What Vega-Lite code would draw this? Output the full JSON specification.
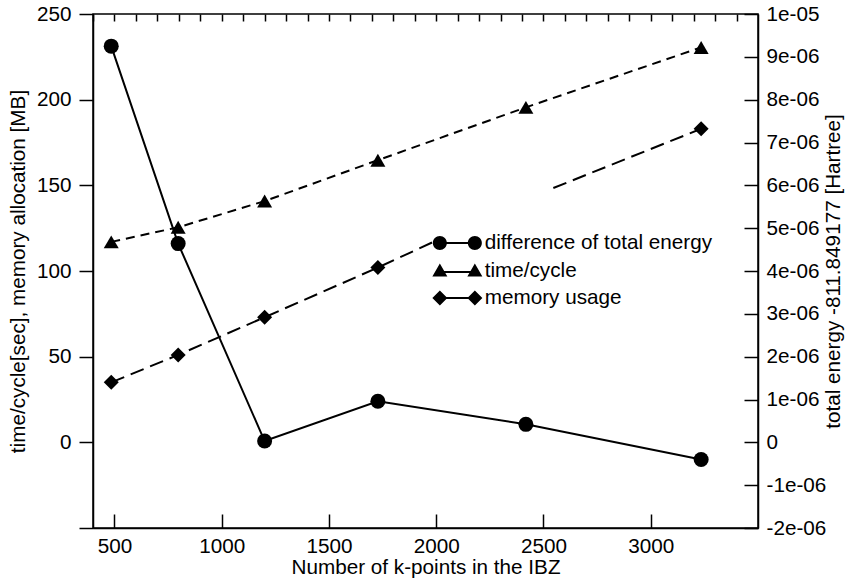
{
  "$schema": "https://vega.github.io/schema/vega-lite/v6.json",
  "width": 665,
  "height": 514,
  "autosize": {"type": "none"},
  "padding": {"left": 93, "top": 14, "right": 89, "bottom": 53},
  "background": "white",
  "config": {
    "font": "Liberation Sans",
    "view": {"stroke": "black", "strokeWidth": 1.5},
    "axis": {
      "grid": false,
      "domainColor": "black",
      "domainWidth": 1.5,
      "tickColor": "black",
      "tickWidth": 1.5,
      "labelColor": "black",
      "titleColor": "black",
      "labelFont": "Liberation Sans",
      "titleFont": "Liberation Sans",
      "labelFontSize": 20.7,
      "titleFontSize": 20.7,
      "titleFontWeight": "normal"
    },
    "legend": {
      "labelFont": "Liberation Sans",
      "labelFontSize": 20.7,
      "labelColor": "black",
      "labelLimit": 400,
      "titleFont": "Liberation Sans"
    }
  },
  "datasets": {
    "d": [
      {"k": 485, "series": "difference of total energy", "v": 9.25e-6},
      {"k": 797, "series": "difference of total energy", "v": 4.64e-6},
      {"k": 1200, "series": "difference of total energy", "v": 0.03e-6},
      {"k": 1728, "series": "difference of total energy", "v": 0.96e-6},
      {"k": 2418, "series": "difference of total energy", "v": 0.42e-6},
      {"k": 3235, "series": "difference of total energy", "v": -0.4e-6},
      {"k": 485, "series": "time/cycle", "v": 117},
      {"k": 797, "series": "time/cycle", "v": 125.5},
      {"k": 1200, "series": "time/cycle", "v": 140.8},
      {"k": 1728, "series": "time/cycle", "v": 164.7},
      {"k": 2418, "series": "time/cycle", "v": 195.5},
      {"k": 3235, "series": "time/cycle", "v": 230.5},
      {"k": 485, "series": "memory usage", "v": 35},
      {"k": 797, "series": "memory usage", "v": 51},
      {"k": 1200, "series": "memory usage", "v": 73},
      {"k": 1728, "series": "memory usage", "v": 102},
      {"k": 2418, "series": "memory usage", "v": 142},
      {"k": 3235, "series": "memory usage", "v": 183}
    ]
  },
  "data": {"name": "d"},
  "resolve": {"scale": {"y": "independent"}, "axis": {"x": "independent"}},
  "layer": [
    {
      "encoding": {
        "x": {
          "field": "k", "type": "quantitative",
          "scale": {"domain": [400, 3500], "nice": false, "zero": false},
          "axis": {
            "values": [500, 1000, 1500, 2000, 2500, 3000],
            "tickSize": -14,
            "labelPadding": 22,
            "title": "Number of k-points in the IBZ",
            "titlePadding": 2,
            "format": "d"
          }
        },
        "y": {
          "field": "v", "type": "quantitative",
          "scale": {"domain": [-50, 250], "nice": false, "zero": false},
          "axis": {
            "orient": "left",
            "values": [-50, 0, 50, 100, 150, 200, 250],
            "labelExpr": "datum.value == -50 ? '' : datum.label",
            "tickSize": 14,
            "labelPadding": 8,
            "title": "time/cycle[sec], memory allocation [MB]",
            "titlePadding": 8
          }
        }
      },
      "layer": [
        {
          "transform": [{"filter": "datum.series == 'time/cycle'"}],
          "mark": {"type": "line", "color": "black", "strokeWidth": 2, "strokeDash": [9, 6]}
        },
        {
          "transform": [{"filter": "datum.series == 'memory usage'"}],
          "mark": {"type": "line", "color": "black", "strokeWidth": 2, "strokeDash": [14, 7]}
        },
        {
          "transform": [{"filter": "datum.series == 'time/cycle'"}],
          "mark": {"type": "point", "shape": "triangle-up", "filled": true, "color": "black", "opacity": 1, "size": 225}
        },
        {
          "transform": [{"filter": "datum.series == 'memory usage'"}],
          "mark": {"type": "point", "shape": "diamond", "filled": true, "color": "black", "opacity": 1, "size": 225}
        }
      ]
    },
    {
      "transform": [{"filter": "datum.series == 'difference of total energy'"}],
      "encoding": {
        "x": {
          "field": "k", "type": "quantitative",
          "scale": {"domain": [400, 3500], "nice": false, "zero": false},
          "axis": {
            "values": [400, 500, 600, 700, 800, 900, 1000, 1100, 1200, 1300, 1400, 1500, 1600, 1700, 1800, 1900, 2000, 2100, 2200, 2300, 2400, 2500, 2600, 2700, 2800, 2900, 3000, 3100, 3200, 3300, 3400],
            "tickSize": -7,
            "labels": false,
            "domain": false,
            "title": null
          }
        },
        "y": {
          "field": "v", "type": "quantitative",
          "scale": {"domain": [-0.000002, 0.00001], "nice": false, "zero": false},
          "axis": {
            "orient": "right",
            "values": [-0.000002, -0.000001, 0, 0.000001, 0.000002, 0.000003, 0.000004, 0.000005, 0.000006, 0.000007, 0.000008, 0.000009, 0.00001],
            "labelExpr": "datum.value == 0 ? '0' : (datum.value < 0 ? '-' : '') + replace(format(abs(datum.value), '.0e'), regexp('e-([0-9])$'), 'e-0$1')",
            "tickSize": -14,
            "labelPadding": 22,
            "title": "total energy -811.849177 [Hartree]",
            "titleAngle": -90,
            "titleBaseline": "alphabetic",
            "titleAlign": "center",
            "titleX": 81,
            "titleY": 257
          }
        }
      },
      "layer": [
        {"mark": {"type": "line", "color": "black", "strokeWidth": 2}},
        {"mark": {"type": "point", "shape": "circle", "filled": true, "color": "black", "opacity": 1, "size": 225}}
      ]
    },
    {
      "transform": [{"filter": "datum.k < 0"}],
      "mark": {"type": "point", "filled": true, "color": "black", "opacity": 1, "size": 100},
      "encoding": {
        "shape": {
          "field": "series", "type": "nominal",
          "scale": {
            "domain": ["difference of total energy", "time/cycle", "memory usage"],
            "range": [
              "M-4.9,0A1.4,1.4,0,1,1,-2.1,0A1.4,1.4,0,1,1,-4.9,0Z M2.1,0A1.4,1.4,0,1,1,4.9,0A1.4,1.4,0,1,1,2.1,0Z M-2.4,-0.2L2.4,-0.2L2.4,0.2L-2.4,0.2Z",
              "M-3.5,-1.4L-2,1.2L-5,1.2Z M3.5,-1.4L5,1.2L2,1.2Z M-2.9,0.1L2.9,0.1L2.9,0.5L-2.9,0.5Z",
              "M-3.5,-1.5L-2,0L-3.5,1.5L-5,0Z M3.5,-1.5L5,0L3.5,1.5L2,0Z M-2.2,-0.2L2.2,-0.2L2.2,0.2L-2.2,0.2Z"
            ]
          },
          "legend": {
            "title": " ",
            "titleFontSize": 20.7,
            "titlePadding": 14,
            "orient": "none",
            "legendX": 345,
            "legendY": 175,
            "fillColor": "white",
            "padding": 9,
            "symbolSize": 100,
            "symbolFillColor": "black",
            "symbolStrokeColor": "black",
            "symbolStrokeWidth": 0,
            "symbolOpacity": 1,
            "labelOffset": 17,
            "rowPadding": 5.5
          }
        }
      }
    }
  ]
}
